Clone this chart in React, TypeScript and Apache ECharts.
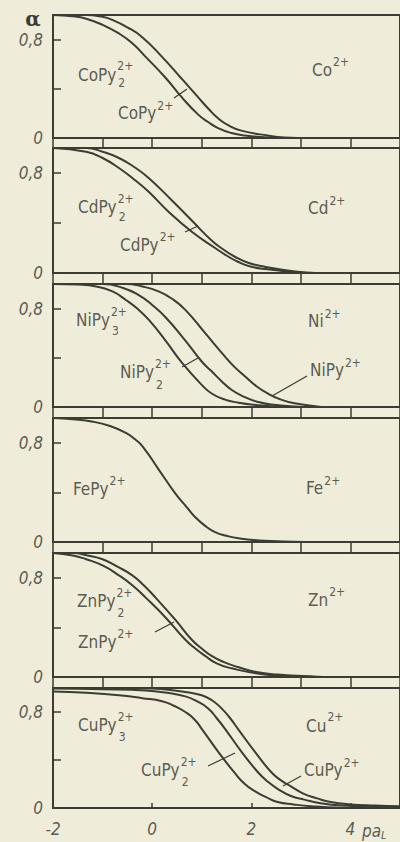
import React, { useEffect, useRef } from "react";
import * as echarts from "echarts";

// ---- data (x = paL, y = cumulative fraction α) ----
const xTickLabels = ["-2", "0", "2", "4"];
const yTickLabels = ["0", "0,8"];
const panelNames = ["Co", "Cd", "Ni", "Fe", "Zn", "Cu"];

const coLower = [[-2, 1], [-1.6, 0.99], [-1.33, 0.97], [-1, 0.92], [-0.67, 0.85], [-0.4, 0.77], [-0.13, 0.66], [0.27, 0.49], [0.6, 0.33], [0.93, 0.19], [1.13, 0.13], [1.33, 0.08], [1.6, 0.04], [1.87, 0.02], [2.33, 0.005], [3, 0]];
const coUpper = [[-2, 1], [-1.33, 1], [-1.0, 0.985], [-0.8, 0.96], [-0.5, 0.9], [-0.2, 0.82], [0.2, 0.66], [0.6, 0.48], [0.93, 0.33], [1.13, 0.24], [1.33, 0.16], [1.55, 0.1], [1.8, 0.06], [2.33, 0.02], [2.67, 0.005], [3.2, 0]];

const cdLower = [[-2, 1], [-1.33, 0.97], [-1, 0.92], [-0.67, 0.84], [-0.37, 0.75], [-0.07, 0.65], [0.33, 0.49], [0.8, 0.33], [1.27, 0.2], [1.5, 0.14], [1.73, 0.09], [2.0, 0.05], [2.33, 0.03], [2.93, 0.005], [3.3, 0]];
const cdUpper = [[-2, 1], [-1.33, 1], [-1, 0.97], [-0.67, 0.92], [-0.37, 0.85], [-0.07, 0.76], [0.4, 0.58], [0.8, 0.42], [1.2, 0.26], [1.43, 0.19], [1.67, 0.13], [1.95, 0.08], [2.27, 0.05], [2.93, 0.01], [3.3, 0]];

const niLower = [[-2, 1], [-1.5, 0.995], [-1.13, 0.98], [-0.8, 0.94], [-0.53, 0.87], [-0.3, 0.8], [-0.07, 0.71], [0.27, 0.54], [0.6, 0.36], [1.0, 0.18], [1.2, 0.11], [1.47, 0.06], [1.75, 0.035], [2.0, 0.02], [2.53, 0.003], [2.9, 0]];
const niMiddle = [[-2, 1], [-1, 1], [-0.6, 0.97], [-0.27, 0.91], [0.0, 0.83], [0.27, 0.73], [0.67, 0.54], [1.0, 0.37], [1.2, 0.29], [1.4, 0.21], [1.6, 0.14], [1.87, 0.08], [2.1, 0.045], [2.4, 0.02], [2.93, 0.003], [3.2, 0]];
const niUpper = [[-2, 1], [-0.53, 1], [-0.2, 0.98], [0.13, 0.94], [0.4, 0.88], [0.67, 0.79], [1.07, 0.6], [1.47, 0.41], [1.65, 0.33], [1.87, 0.25], [2.1, 0.17], [2.33, 0.11], [2.6, 0.06], [2.87, 0.03], [3.33, 0.005], [3.5, 0]];

const feCurve = [[-2, 1], [-1.6, 0.99], [-1.19, 0.97], [-0.85, 0.935], [-0.53, 0.88], [-0.35, 0.83], [-0.19, 0.77], [0.14, 0.58], [0.47, 0.39], [0.7, 0.28], [0.87, 0.2], [1.07, 0.13], [1.27, 0.08], [1.5, 0.05], [1.74, 0.03], [2.27, 0.01], [3.07, 0]];

const znLower = [[-2, 1], [-1.6, 0.98], [-1.33, 0.95], [-1, 0.9], [-0.67, 0.82], [-0.4, 0.74], [-0.13, 0.64], [0.27, 0.48], [0.67, 0.3], [0.87, 0.23], [1.07, 0.17], [1.3, 0.11], [1.6, 0.07], [2.27, 0.02], [2.93, 0.003], [3.3, 0]];
const znUpper = [[-2, 1], [-1.6, 1], [-1.3, 0.98], [-1.0, 0.95], [-0.7, 0.89], [-0.4, 0.82], [-0.17, 0.74], [0.07, 0.64], [0.47, 0.46], [0.8, 0.3], [1.0, 0.23], [1.2, 0.17], [1.45, 0.12], [1.73, 0.08], [2.1, 0.04], [2.53, 0.02], [3.33, 0.003], [3.6, 0]];

const cuLower = [[-2, 0.97], [-1.33, 0.96], [-0.67, 0.94], [-0.2, 0.915], [0.2, 0.89], [0.45, 0.85], [0.67, 0.8], [0.85, 0.74], [1.0, 0.66], [1.33, 0.47], [1.67, 0.29], [1.87, 0.2], [2.07, 0.14], [2.3, 0.09], [2.53, 0.05], [2.85, 0.03], [3.2, 0.015], [3.8, 0.003], [4.5, 0]];
const cuMiddle = [[-2, 0.995], [-1, 0.99], [-0.13, 0.98], [0.3, 0.96], [0.67, 0.93], [0.9, 0.89], [1.13, 0.83], [1.3, 0.75], [1.47, 0.66], [1.8, 0.47], [2.13, 0.3], [2.33, 0.22], [2.53, 0.16], [2.8, 0.1], [3.07, 0.07], [3.4, 0.04], [3.87, 0.02], [4.67, 0.008], [5, 0.005]];
const cuUpper = [[-2, 1], [-0.5, 1], [0, 0.995], [0.33, 0.985], [0.7, 0.965], [1.0, 0.94], [1.2, 0.9], [1.4, 0.83], [1.57, 0.75], [1.73, 0.66], [2.07, 0.47], [2.4, 0.3], [2.6, 0.23], [2.8, 0.18], [3.05, 0.12], [3.33, 0.08], [3.6, 0.05], [4.0, 0.03], [4.5, 0.02], [5, 0.014]];

const panelCurves = [
  [coLower, coUpper],
  [cdLower, cdUpper],
  [niLower, niMiddle, niUpper],
  [feCurve],
  [znLower, znUpper],
  [cuLower, cuMiddle, cuUpper],
];

// ---- layout ----
const panelTops = [15, 148, 284, 418, 553, 688];
const panelBottoms = [138, 273, 407, 542, 677, 808];
const GRID_LEFT = 53;
const GRID_WIDTH = 350;

const BG = "#efedd9";
const INK = "#3b3c34";
const TEXT = "#5c5c53";
const FONT = "'DejaVu Sans Condensed', 'Liberation Sans Narrow', 'DejaVu Sans', sans-serif";
const MAIN_FONT = `17px ${FONT}`;
const SCRIPT_FONT = `12px ${FONT}`;

type Lab = { t: string; x: number; y: number; sup?: string; sy?: number; sub?: string; by?: number };

const labels: Lab[] = [
  { t: "CoPy", x: 78, y: 75, sup: "2+", sy: 66, sub: "2", by: 83 },
  { t: "CoPy", x: 118, y: 113, sup: "2+", sy: 106 },
  { t: "Co", x: 312, y: 70, sup: "2+", sy: 62 },
  { t: "CdPy", x: 78, y: 207, sup: "2+", sy: 199, sub: "2", by: 217 },
  { t: "CdPy", x: 120, y: 245, sup: "2+", sy: 237 },
  { t: "Cd", x: 308, y: 208, sup: "2+", sy: 201 },
  { t: "NiPy", x: 76, y: 320, sup: "2+", sy: 312, sub: "3", by: 331 },
  { t: "NiPy", x: 120, y: 372, sup: "2+", sy: 364, sub: "2", by: 385 },
  { t: "Ni", x: 308, y: 321, sup: "2+", sy: 314 },
  { t: "NiPy", x: 310, y: 370, sup: "2+", sy: 363 },
  { t: "FePy", x: 73, y: 489, sup: "2+", sy: 481 },
  { t: "Fe", x: 306, y: 488, sup: "2+", sy: 481 },
  { t: "ZnPy", x: 77, y: 601, sup: "2+", sy: 593, sub: "2", by: 613 },
  { t: "ZnPy", x: 78, y: 642, sup: "2+", sy: 634 },
  { t: "Zn", x: 308, y: 600, sup: "2+", sy: 592 },
  { t: "CuPy", x: 78, y: 725, sup: "2+", sy: 717, sub: "3", by: 737 },
  { t: "CuPy", x: 141, y: 770, sup: "2+", sy: 762, sub: "2", by: 782 },
  { t: "Cu", x: 306, y: 726, sup: "2+", sy: 717 },
  { t: "CuPy", x: 304, y: 770, sup: "2+", sy: 763 },
];

const pointers = [
  [174, 98, 187, 89],
  [185, 232, 198, 226],
  [182, 367, 198, 358],
  [307, 376, 272, 396],
  [155, 632, 174, 622],
  [208, 766, 235, 753],
  [301, 776, 283, 786],
];

let measureCtx: CanvasRenderingContext2D | null = null;
function textWidth(text: string, font: string): number {
  if (!measureCtx) measureCtx = document.createElement("canvas").getContext("2d");
  if (!measureCtx) return text.length * 9;
  measureCtx.font = font;
  return measureCtx.measureText(text).width;
}

function buildOption() {
  const n = panelNames.length;
  const grid: any[] = [];
  const xAxis: any[] = [];
  const yAxis: any[] = [];
  const series: any[] = [];
  for (let i = 0; i < n; i++) {
    const last = i === n - 1;
    const gap = last ? 0 : panelTops[i + 1] - panelBottoms[i];
    grid.push({
      left: GRID_LEFT,
      top: panelTops[i],
      width: GRID_WIDTH,
      height: panelBottoms[i] - panelTops[i],
      show: true,
      borderColor: INK,
      borderWidth: 2,
      backgroundColor: "transparent",
    });
    xAxis.push({
      type: "value",
      gridIndex: i,
      min: -2,
      max: 5,
      interval: last ? 2 : 1,
      axisLine: { show: false, onZero: false },
      splitLine: { show: false },
      axisTick: last
        ? { show: true, inside: true, length: 5, lineStyle: { color: INK, width: 1.5 } }
        : { show: true, inside: false, length: gap, lineStyle: { color: INK, width: 1.5 } },
      axisLabel: last
        ? {
            show: true,
            margin: 12,
            color: TEXT,
            fontSize: 17,
            fontStyle: "italic",
            fontFamily: FONT,
            showMaxLabel: false,
            formatter: (v: number) => {
              const idx = [-2, 0, 2, 4].indexOf(v);
              return idx >= 0 ? xTickLabels[idx] : "";
            },
          }
        : { show: false },
    });
    yAxis.push({
      type: "value",
      gridIndex: i,
      min: 0,
      max: 1,
      interval: 0.4,
      axisLine: { show: false, onZero: false },
      splitLine: { show: false },
      axisTick: { show: true, inside: true, length: 8, lineStyle: { color: INK, width: 1.5 } },
      axisLabel: {
        show: true,
        margin: 10,
        color: TEXT,
        fontSize: 17,
        fontStyle: "italic",
        fontFamily: FONT,
        formatter: (v: number) => (v === 0 ? yTickLabels[0] : Math.abs(v - 0.8) < 1e-6 ? yTickLabels[1] : ""),
      },
    });
    panelCurves[i].forEach((curve, k) => {
      series.push({
        type: "line",
        name: panelNames[i] + k,
        xAxisIndex: i,
        yAxisIndex: i,
        data: curve,
        smooth: 0.5,
        symbol: "none",
        clip: true,
        lineStyle: { color: INK, width: 2 },
      });
    });
  }

  const graphic: any[] = [];
  labels.forEach((l) => {
    const w = textWidth(l.t, MAIN_FONT);
    const sx = l.x + w + 1;
    graphic.push({
      type: "text",
      x: l.x,
      y: l.y,
      style: { text: l.t, fill: TEXT, font: MAIN_FONT, textAlign: "left", verticalAlign: "middle" },
    });
    if (l.sup) {
      graphic.push({
        type: "text",
        x: sx,
        y: l.sy,
        style: { text: l.sup, fill: TEXT, font: SCRIPT_FONT, textAlign: "left", verticalAlign: "middle" },
      });
    }
    if (l.sub) {
      graphic.push({
        type: "text",
        x: sx + 1,
        y: l.by,
        style: { text: l.sub, fill: TEXT, font: SCRIPT_FONT, textAlign: "left", verticalAlign: "middle" },
      });
    }
  });
  pointers.forEach((p) => {
    graphic.push({
      type: "line",
      shape: { x1: p[0], y1: p[1], x2: p[2], y2: p[3] },
      style: { stroke: INK, lineWidth: 1.2 },
    });
  });
  graphic.push({
    type: "text",
    x: 33,
    y: 19,
    style: { text: "α", fill: INK, font: `bold 20px 'DejaVu Serif', serif`, textAlign: "center", verticalAlign: "middle" },
  });
  const paFont = `italic 17px ${FONT}`;
  const paW = textWidth("pa", paFont);
  graphic.push({
    type: "text",
    x: 362,
    y: 831,
    style: { text: "pa", fill: TEXT, font: paFont, textAlign: "left", verticalAlign: "middle" },
  });
  graphic.push({
    type: "text",
    x: 362 + paW,
    y: 835,
    style: { text: "L", fill: TEXT, font: `italic 11px ${FONT}`, textAlign: "left", verticalAlign: "middle" },
  });

  return {
    animation: false,
    backgroundColor: BG,
    grid,
    xAxis,
    yAxis,
    series,
    graphic,
  };
}

export default function App() {
  const ref = useRef<HTMLDivElement>(null);
  useEffect(() => {
    if (!ref.current) return;
    const chart = echarts.init(ref.current, null, { renderer: "svg" });
    chart.setOption(buildOption());
    return () => chart.dispose();
  }, []);
  return (
    <div
      ref={ref}
      style={{ position: "fixed", left: 0, top: 0, width: 400, height: 842, background: BG }}
    />
  );
}
